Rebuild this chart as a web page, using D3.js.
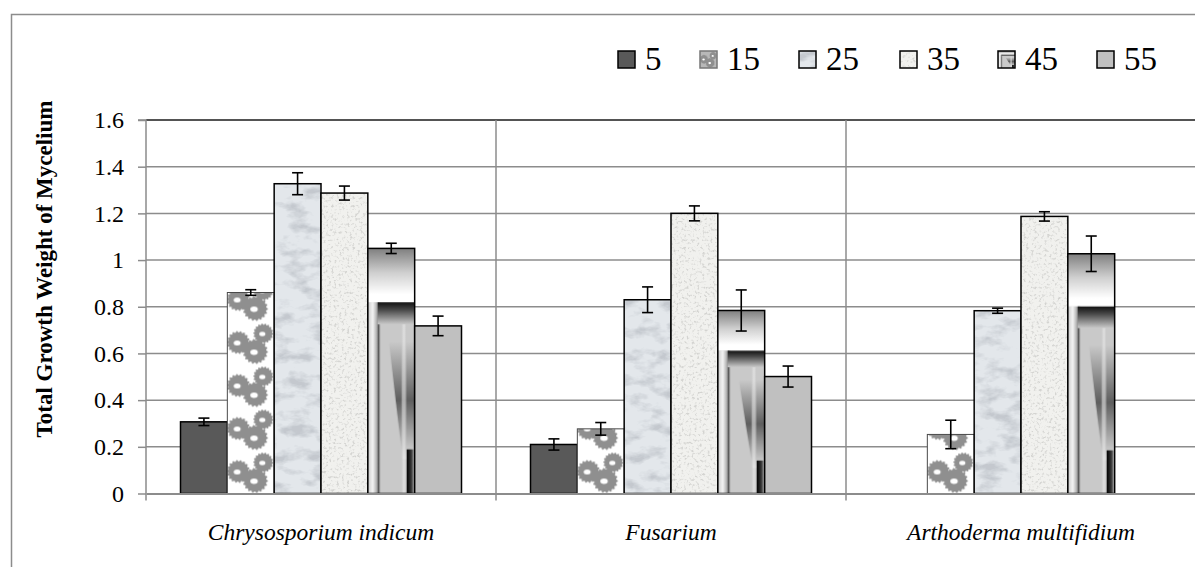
<!DOCTYPE html>
<html><head><meta charset="utf-8">
<script src="https://cdn.jsdelivr.net/npm/d3@7"></script>
<style>
html,body{margin:0;padding:0;background:#fff;}
svg{display:block;}
</style></head>
<body>
<svg id="chart" width="1195" height="567"></svg>
<script>
// ---------- data ----------
const categories = ["Chrysosporium indicum", "Fusarium", "Arthoderma multifidium"];
const seriesNames = ["5", "15", "25", "35", "45", "55"];
const values5  = [0.307, 0.210, null];
const values15 = [0.861, 0.277, 0.253];
const values25 = [1.327, 0.830, 0.783];
const values35 = [1.287, 1.200, 1.187];
const values45 = [1.050, 0.784, 1.027];
const values55 = [0.718, 0.501, null];
const errors5  = [0.016, 0.024, null];
const errors15 = [0.012, 0.027, 0.061];
const errors25 = [0.047, 0.055, 0.011];
const errors35 = [0.030, 0.032, 0.020];
const errors45 = [0.022, 0.088, 0.076];
const errors55 = [0.042, 0.045, null];
const yTickValues = [0, 0.2, 0.4, 0.6, 0.8, 1, 1.2, 1.4, 1.6];
const yTitle = "Total Growth Weight of Mycelium";

const seriesValues = [values5, values15, values25, values35, values45, values55];
const seriesErrors = [errors5, errors15, errors25, errors35, errors45, errors55];

// ---------- layout ----------
const FONT = "Liberation Serif";
const plot = {left: 146, right: 1196, top: 120, bottom: 493.5};
const svg = d3.select("#chart");
const defs = svg.append("defs");

const x0 = d3.scaleBand().domain(categories).range([plot.left, plot.right]).paddingInner(0).paddingOuter(0);
const x1 = d3.scaleBand().domain(seriesNames).range([34.5, x0.bandwidth() - 34.5]).paddingInner(0);
const y = d3.scaleLinear().domain([0, 1.6]).range([plot.bottom, plot.top]);

// ---------- fills ----------
function noiseFilter(id, freq, oct, seed, rgb, a, b, bg) {
  const f = defs.append("filter").attr("id", id).attr("x", 0).attr("y", 0).attr("width", 1).attr("height", 1);
  f.append("feTurbulence").attr("type", "fractalNoise").attr("baseFrequency", freq).attr("numOctaves", oct).attr("seed", seed).attr("result", "n");
  f.append("feColorMatrix").attr("in", "n").attr("type", "matrix")
    .attr("values", `0 0 0 0 ${rgb[0]}  0 0 0 0 ${rgb[1]}  0 0 0 0 ${rgb[2]}  ${a} 0 0 0 ${b}`).attr("result", "s");
  f.append("feFlood").attr("flood-color", bg).attr("result", "bg");
  const m = f.append("feMerge").attr("result", "m");
  m.append("feMergeNode").attr("in", "bg"); m.append("feMergeNode").attr("in", "s");
  f.append("feComposite").attr("in", "m").attr("in2", "SourceAlpha").attr("operator", "in");
}
noiseFilter("marble", "0.045 0.08", 4, 11, [0.55, 0.58, 0.62], 3.2, -1.45, "#e3e7eb");
noiseFilter("speckle", "0.38", 2, 5, [0.66, 0.66, 0.64], 4, -2.1, "#f1f1ee");

// gear shape
function gearPath(cx, cy, r, teeth) {
  const pts = [];
  const n = teeth * 4;
  for (let i = 0; i < n; i++) {
    const a = (i / n) * 2 * Math.PI;
    const rr = (Math.floor(i / 2) % 2 === 0) ? r : r * 0.88;
    pts.push([cx + rr * Math.cos(a), cy + rr * Math.sin(a)]);
  }
  return "M" + pts.map(p => p[0].toFixed(2) + "," + p[1].toFixed(2)).join("L") + "Z";
}
const gearSpecs = [[11, 21, 11.5], [36, 12, 10], [28, 30, 12.5]];
function drawCluster(g) {
  gearSpecs.forEach(([cx, cy, r]) => {
    g.append("path").attr("d", gearPath(cx, cy, r, 18)).attr("fill", "#8f8f8f");
    g.append("ellipse").attr("cx", cx - r * 0.1).attr("cy", cy + r * 0.05).attr("rx", r * 0.3).attr("ry", r * 0.22).attr("fill", "#fff");
  });
}
const tileW = x1.bandwidth(), tileH = 43;
categories.forEach((c, i) => {
  const p = defs.append("pattern").attr("id", "gear" + i).attr("patternUnits", "userSpaceOnUse")
    .attr("width", tileW).attr("height", tileH)
    .attr("patternTransform", `translate(${x0(c) + x1("15")},${plot.bottom})`);
  p.append("rect").attr("width", tileW).attr("height", tileH).attr("fill", "#fff");
  drawCluster(p.append("g"));
});
const lp = defs.append("pattern").attr("id", "gearLegend").attr("patternUnits", "objectBoundingBox")
  .attr("patternContentUnits", "objectBoundingBox").attr("width", 1).attr("height", 1);
lp.append("rect").attr("width", 1).attr("height", 1).attr("fill", "#b8b8b8");
drawCluster(lp.append("g").attr("transform", `scale(${1 / tileW},${1 / tileH})`));

// gradient picture (45)
function lin(id, x2, y2, stops) {
  const g = defs.append("linearGradient").attr("id", id).attr("x1", 0).attr("y1", 0).attr("x2", x2).attr("y2", y2);
  stops.forEach(([o, c]) => g.append("stop").attr("offset", o).attr("stop-color", c));
}
lin("g45top", 0, 1, [[0, "#7f7f7f"], [0.45, "#cfcfcf"], [0.85, "#ffffff"], [1, "#ffffff"]]);
lin("g45left", 1, 0, [[0, "#c8c8c8"], [0.5, "#f4f4f4"], [1, "#a0a0a0"]]);
lin("g45line", 1, 0, [[0, "#333"], [1, "#bbb"]]);
lin("g45band", 0, 1, [[0, "#111"], [0.35, "#4a4a4a"], [1, "#c9c9c9"]]);
lin("g45diag", 0, 1, [[0, "#c9c9c9"], [0.5, "#5e5e5e"], [1, "#dcdcdc"]]);
lin("g45corner", 1, 0, [[0, "#000"], [0.7, "#3a3a3a"], [1, "#999"]]);
lin("g45right", 1, 0, [[0, "#c9c9c9"], [0.5, "#f0f0f0"], [1, "#c9c9c9"]]);
const p45 = defs.append("pattern").attr("id", "pic45").attr("patternUnits", "objectBoundingBox")
  .attr("patternContentUnits", "objectBoundingBox").attr("width", 1).attr("height", 1);
p45.append("rect").attr("width", 1).attr("height", 1).attr("fill", "#c9c9c9");
p45.append("rect").attr("width", 1).attr("height", 0.22).attr("fill", "url(#g45top)");
p45.append("rect").attr("x", 0).attr("y", 0.22).attr("width", 0.21).attr("height", 0.78).attr("fill", "url(#g45left)");
p45.append("rect").attr("x", 0.21).attr("y", 0.22).attr("width", 0.06).attr("height", 0.78).attr("fill", "url(#g45line)");
p45.append("path").attr("d", "M0.45,0.38L1,0.38L1,0.86L0.74,0.86Z").attr("fill", "url(#g45diag)");
p45.append("rect").attr("x", 0.72).attr("y", 0.3).attr("width", 0.1).attr("height", 0.7).attr("fill", "url(#g45right)").attr("opacity", 0.6);
p45.append("rect").attr("x", 0.21).attr("y", 0.22).attr("width", 0.79).attr("height", 0.09).attr("fill", "url(#g45band)");
p45.append("rect").attr("x", 0.83).attr("y", 0.82).attr("width", 0.15).attr("height", 0.18).attr("fill", "url(#g45corner)");

const fills = {
  "5": {fill: "#595959", filter: null},
  "15": {fill: null, filter: null},
  "25": {fill: "#e3e7eb", filter: "url(#marble)"},
  "35": {fill: "#f1f1ee", filter: "url(#speckle)"},
  "45": {fill: "url(#pic45)", filter: null},
  "55": {fill: "#c0c0c0", filter: null}
};
const strokeOf = s => s === "15" ? "#4a4a4a" : "#000";
const strokeW = s => s === "15" ? 1 : 1.5;

// ---------- outer frame ----------
svg.append("rect").attr("x", 11.5).attr("y", 14.5).attr("width", 1300).attr("height", 700)
  .attr("fill", "none").attr("stroke", "#8c8c8c").attr("stroke-width", 1.5);

// ---------- gridlines ----------
const grid = svg.append("g");
grid.selectAll("line.h").data(yTickValues.filter(d => d > 0)).join("line")
  .attr("x1", plot.left).attr("x2", plot.right)
  .attr("y1", d => y(d)).attr("y2", d => y(d))
  .attr("stroke", d => d === 1.6 ? "#1a1a1a" : "#8c8c8c").attr("stroke-width", 1.5);
grid.selectAll("line.v").data(categories.slice(1)).join("line")
  .attr("x1", d => x0(d)).attr("x2", d => x0(d))
  .attr("y1", plot.top).attr("y2", plot.bottom + 7)
  .attr("stroke", "#8c8c8c").attr("stroke-width", 1.5);

// ---------- bars ----------
const rows = [];
categories.forEach((c, ci) => seriesNames.forEach((s, si) => {
  const v = seriesValues[si][ci];
  if (v != null) rows.push({c, ci, s, v, e: seriesErrors[si][ci]});
}));
const barG = svg.append("g");
rows.forEach(d => {
  const bx = x0(d.c) + x1(d.s), by = y(d.v), bw = x1.bandwidth(), bh = y(0) - y(d.v);
  const f = fills[d.s];
  barG.append("rect").attr("x", bx).attr("y", by).attr("width", bw).attr("height", bh)
    .attr("fill", d.s === "15" ? `url(#gear${d.ci})` : f.fill)
    .attr("filter", f.filter);
  barG.append("rect").attr("x", bx).attr("y", by).attr("width", bw).attr("height", bh)
    .attr("fill", "none").attr("stroke", strokeOf(d.s)).attr("stroke-width", strokeW(d.s));
});

// ---------- axes ----------
const yAxis = d3.axisLeft(y).tickValues(yTickValues).tickSize(8).tickPadding(14)
  .tickFormat(d => String(+d.toFixed(1)));
const yg = svg.append("g").attr("transform", `translate(${plot.left},0)`).call(yAxis);
yg.attr("font-family", FONT).attr("font-size", 24);
yg.select(".domain").attr("stroke", "#8c8c8c").attr("stroke-width", 1.5)
  .attr("d", `M-8,${plot.top}H0V${plot.bottom + 7}`);
yg.selectAll(".tick line").attr("stroke", "#8c8c8c").attr("stroke-width", 1.5);
yg.selectAll(".tick text").attr("fill", "#000");

const xAxis = d3.axisBottom(x0).tickSize(0).tickPadding(30);
const xg = svg.append("g").attr("transform", `translate(0,${plot.bottom})`).call(xAxis);
xg.attr("font-family", FONT).attr("font-size", 23.5);
xg.select(".domain").attr("stroke", "#8c8c8c").attr("stroke-width", 2);
xg.selectAll(".tick text").attr("font-style", "italic").attr("fill", "#000");

// ---------- error bars ----------
const eg = svg.append("g").attr("stroke", "#000").attr("stroke-width", 1.6);
rows.forEach(d => {
  const cx = x0(d.c) + x1(d.s) + x1.bandwidth() / 2;
  const yt = y(d.v + d.e), yb = y(d.v - d.e);
  eg.append("line").attr("x1", cx).attr("x2", cx).attr("y1", yt).attr("y2", yb);
  eg.append("line").attr("x1", cx - 5.5).attr("x2", cx + 5.5).attr("y1", yt).attr("y2", yt);
  eg.append("line").attr("x1", cx - 5.5).attr("x2", cx + 5.5).attr("y1", yb).attr("y2", yb);
});

// ---------- y title ----------
svg.append("text").attr("transform", `translate(52,269) rotate(-90)`)
  .attr("text-anchor", "middle").attr("font-family", FONT).attr("font-weight", "bold")
  .attr("font-size", 23).text(yTitle);

// ---------- legend ----------
const legendX = [618, 700, 799, 900, 998, 1097];
const lg = svg.append("g").attr("font-family", FONT).attr("font-size", 33);
seriesNames.forEach((s, i) => {
  const g = lg.append("g").attr("transform", `translate(${legendX[i]},0)`);
  const f = fills[s];
  g.append("rect").attr("x", 0).attr("y", 51).attr("width", 17).attr("height", 17)
    .attr("fill", s === "15" ? "url(#gearLegend)" : f.fill).attr("filter", f.filter);
  g.append("rect").attr("x", 0).attr("y", 51).attr("width", 17).attr("height", 17)
    .attr("fill", "none").attr("stroke", s === "15" ? "#777" : "#000").attr("stroke-width", 1.5);
  g.append("text").attr("x", 27).attr("y", 70).attr("fill", "#000").text(s);
});
</script>
</body></html>
